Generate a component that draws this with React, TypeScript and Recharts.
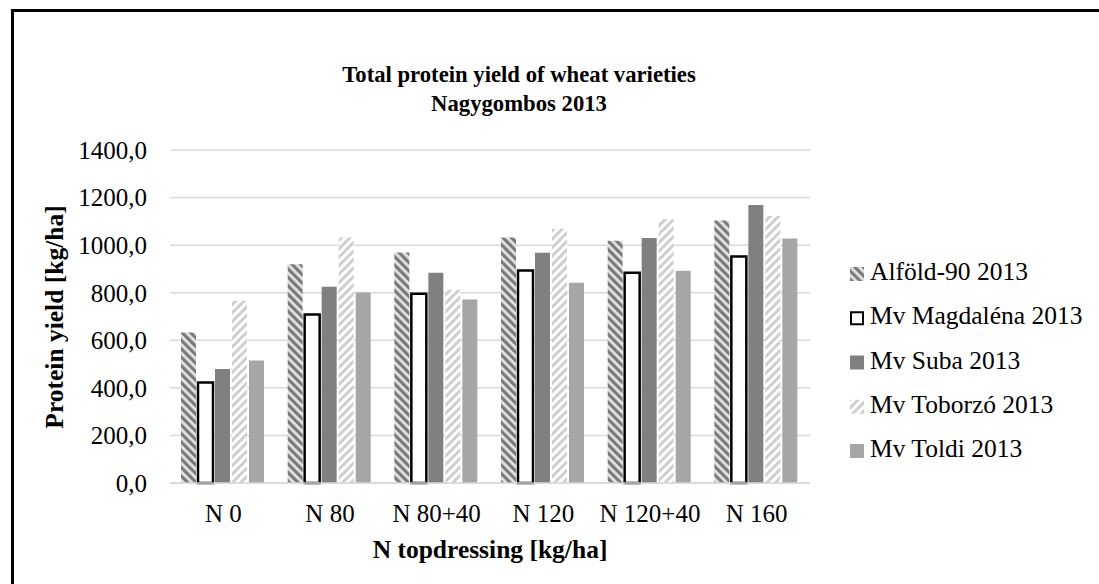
import React from 'react';
import { BarChart, Bar, XAxis, YAxis, CartesianGrid, Legend } from 'recharts';

const categories = ['N 0', 'N 80', 'N 80+40', 'N 120', 'N 120+40', 'N 160'];
const alfold = [633, 920, 969, 1032, 1018, 1104];
const magdalena = [422, 708, 796, 893, 884, 952];
const suba = [479, 825, 884, 968, 1030, 1169];
const toborzo = [766, 1032, 812, 1069, 1110, 1123];
const toldi = [515, 801, 771, 842, 892, 1028];
const yTicks = [0, 200, 400, 600, 800, 1000, 1200, 1400];

const seriesNames = ['Alföld-90 2013', 'Mv Magdaléna 2013', 'Mv Suba 2013', 'Mv Toborzó 2013', 'Mv Toldi 2013'];
const seriesKeys = ['alfold', 'magdalena', 'suba', 'toborzo', 'toldi'];
const seriesValues = [alfold, magdalena, suba, toborzo, toldi];

const data = categories.map((c, i) => {
  const row: Record<string, string | number> = { cat: c };
  seriesKeys.forEach((k, j) => {
    row[k] = seriesValues[j][i];
  });
  return row;
});

const FONT = '"Liberation Serif", "Times New Roman", serif';

const styles = [
  { fill: 'url(#patDown)', stroke: 'none', strokeWidth: 0 },
  { fill: '#ffffff', stroke: '#000000', strokeWidth: 2.5 },
  { fill: '#808080', stroke: 'none', strokeWidth: 0 },
  { fill: 'url(#patUp)', stroke: 'none', strokeWidth: 0 },
  { fill: '#a6a6a6', stroke: 'none', strokeWidth: 0 },
];

const fmt = (v: number) => v.toFixed(1).replace('.', ',');

const renderLegend = () => (
  <svg width={1099} height={584} style={{ position: 'absolute', left: 0, top: 0 }}>
    {seriesNames.map((name, i) => {
      const base = 280 + i * 44.25;
      const s = styles[i];
      return (
        <g key={name}>
          <rect
            x={s.strokeWidth ? 851 : 850}
            y={base - 13 + (s.strokeWidth ? 1 : 0)}
            width={s.strokeWidth ? 12 : 14}
            height={s.strokeWidth ? 12 : 14}
            fill={s.fill}
            stroke={s.stroke}
            strokeWidth={s.strokeWidth ? 2 : 0}
          />
          <text x={870} y={base} fontFamily={FONT} fontSize={25.5} fill="#000">
            {name}
          </text>
        </g>
      );
    })}
  </svg>
);

export default function App() {
  return (
    <div style={{ position: 'fixed', left: 0, top: 0, width: 1099, height: 584, overflow: 'hidden', background: '#fff' }}>
      <svg width={0} height={0} style={{ position: 'absolute' }}>
        <defs>
          <pattern id="patDown" patternUnits="userSpaceOnUse" width={6} height={6} patternTransform="rotate(-45)">
            <rect x={0} y={0} width={6} height={6} fill="#e4e4e4" />
            <rect x={0} y={0} width={3.2} height={6} fill="#7a7a7a" />
          </pattern>
          <pattern id="patUp" patternUnits="userSpaceOnUse" width={6} height={6} patternTransform="rotate(45)">
            <rect x={0} y={0} width={6} height={6} fill="#ffffff" />
            <rect x={0} y={0} width={3} height={6} fill="#cfcfcf" />
          </pattern>
        </defs>
      </svg>
      <div
        style={{
          position: 'absolute',
          left: 10.5,
          top: 8.5,
          width: 1200,
          height: 700,
          border: '3px solid #000',
          boxSizing: 'border-box',
        }}
      />
      <svg width={1099} height={584} style={{ position: 'absolute', left: 0, top: 0 }}>
        <text x={519} y={82} textAnchor="middle" fontFamily={FONT} fontWeight="bold" fontSize={22.7} fill="#000">
          Total protein yield of wheat varieties
        </text>
        <text x={519} y={111} textAnchor="middle" fontFamily={FONT} fontWeight="bold" fontSize={22.7} fill="#000">
          Nagygombos 2013
        </text>
      </svg>
      <div style={{ position: 'absolute', left: 0, top: 0 }}>
        <BarChart
          width={1099}
          height={584}
          data={data}
          margin={{ top: 150, right: 289, bottom: 41, left: 0 }}
          barGap={2}
          barCategoryGap={11}
        >
          <CartesianGrid vertical={false} stroke="#d9d9d9" strokeWidth={1.5} />
          <XAxis
            dataKey="cat"
            height={60}
            axisLine={{ stroke: '#d9d9d9', strokeWidth: 1.5 }}
            tickLine={false}
            tickSize={0}
            tickMargin={21}
            interval={0}
            tick={{ fontFamily: FONT, fontSize: 25, fill: '#000' }}
            label={() => (
              <text x={490} y={558} textAnchor="middle" fontFamily={FONT} fontWeight="bold" fontSize={25.5} fill="#000">
                N topdressing [kg/ha]
              </text>
            )}
          />
          <YAxis
            width={170}
            domain={[0, 1400]}
            ticks={yTicks}
            axisLine={false}
            tickLine={false}
            tickSize={0}
            tickMargin={23}
            tickFormatter={fmt}
            tick={{ fontFamily: FONT, fontSize: 25, fill: '#000' }}
            label={() => (
              <text
                x={62.5}
                y={317}
                transform="rotate(-90, 62.5, 317)"
                textAnchor="middle"
                fontFamily={FONT}
                fontWeight="bold"
                fontSize={25.5}
                fill="#000"
              >
                Protein yield [kg/ha]
              </text>
            )}
          />
          <Legend
            layout="vertical"
            align="center"
            verticalAlign="middle"
            wrapperStyle={{ position: 'absolute', left: 0, top: 0, width: 1099, height: 584, pointerEvents: 'none' }}
            content={renderLegend}
          />
          {seriesKeys.map((k, i) => (
            <Bar
              key={k}
              dataKey={k}
              name={seriesNames[i]}
              fill={styles[i].fill}
              stroke={styles[i].stroke}
              strokeWidth={styles[i].strokeWidth}
              isAnimationActive={false}
            />
          ))}
        </BarChart>
      </div>
    </div>
  );
}
